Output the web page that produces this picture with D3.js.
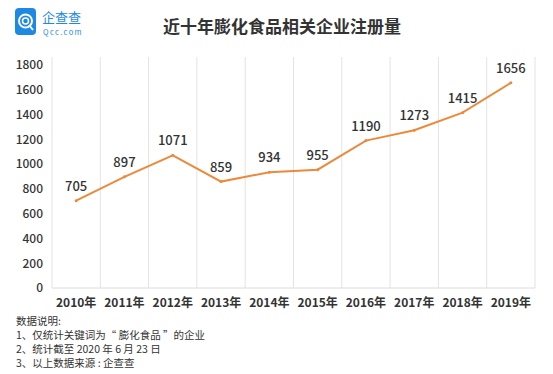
<!DOCTYPE html>
<html><head><meta charset="utf-8">
<script src="https://cdn.jsdelivr.net/npm/d3@7"></script>
<style>body{margin:0;background:#fff}svg{display:block}</style>
</head><body><svg id="c" width="553" height="374"></svg>
<script>
const years = ["2010年","2011年","2012年","2013年","2014年","2015年","2016年","2017年","2018年","2019年"];
const counts = [705, 897, 1071, 859, 934, 955, 1190, 1273, 1415, 1656];
const yTicks = [0,200,400,600,800,1000,1200,1400,1600,1800];
const title = "近十年膨化食品相关企业注册量";
const notes = ["数据说明:", "1、仅统计关键词为“ 膨化食品 ”的企业", "2、统计截至 2020 年 6 月 23 日", "3、以上数据来源 : 企查查"];

const svg = d3.select("#c");
const font = "'Noto Sans CJK SC','Noto Sans',sans-serif";
const L = 52, R = 535, T = 65, B = 288;
const x = d3.scaleBand().domain(years).range([L, R]);
const y = d3.scaleLinear().domain([0, 1800]).range([B, T]);

// logo
const logo = svg.append("g");
logo.append("rect").attr("x",15).attr("y",8).attr("width",21).attr("height",27).attr("rx",4).attr("fill","#1e88e5");
logo.append("circle").attr("cx",25.5).attr("cy",21).attr("r",6.5).attr("fill","none").attr("stroke","#fff").attr("stroke-width",2);
logo.append("circle").attr("cx",25.5).attr("cy",21).attr("r",3).attr("fill","none").attr("stroke","#fff").attr("stroke-width",1.5);
logo.append("line").attr("x1",29).attr("y1",25).attr("x2",33).attr("y2",30).attr("stroke","#fff").attr("stroke-width",2);
logo.append("text").attr("x",42).attr("y",22).attr("font-family",font).attr("font-size",13).attr("fill","#1e88e5").text("企查查");
logo.append("text").attr("x",43).attr("y",35).attr("font-family",font).attr("font-size",7.5).attr("fill","#1e88e5").attr("letter-spacing",1.4).text("Qcc.com");

svg.append("text").attr("x",282).attr("y",33).attr("text-anchor","middle")
  .attr("font-family",font).attr("font-size",17).attr("font-weight","bold").attr("fill","#333").text(title);

// vertical category gridlines
const bounds = years.map(d => x(d)).concat([R]);
svg.append("g").selectAll("line").data(bounds).join("line")
  .attr("x1",d=>d).attr("x2",d=>d).attr("y1",T-8).attr("y2",B)
  .attr("stroke","#e3e3e3").attr("stroke-width",1);
svg.append("line").attr("x1",L).attr("x2",R).attr("y1",B).attr("y2",B).attr("stroke","#dcdcdc");

// y axis
const ya = svg.append("g").attr("transform",`translate(${L-9},0)`)
  .call(d3.axisLeft(y).tickValues(yTicks).tickFormat(d3.format("d")).tickSize(0).tickPadding(0));
ya.select(".domain").remove();
ya.selectAll("text").attr("font-family",font).attr("font-size",12).attr("font-weight",500).attr("fill","#333");

// x axis
const xa = svg.append("g").attr("transform",`translate(0,${B})`)
  .call(d3.axisBottom(x).tickSize(0).tickPadding(10));
xa.select(".domain").remove();
xa.selectAll("text").attr("font-family",font).attr("font-size",12).attr("font-weight","bold").attr("fill","#333");

// line
const line = d3.line().x((d,i)=>x(years[i])+x.bandwidth()/2).y(d=>y(d));
svg.append("path").datum(counts).attr("d",line).attr("fill","none").attr("stroke","#ec8a3c").attr("stroke-width",2);
svg.append("g").selectAll("circle").data(counts).join("circle")
  .attr("cx",(d,i)=>x(years[i])+x.bandwidth()/2).attr("cy",d=>y(d)).attr("r",1.5).attr("fill","#ec8a3c");
svg.append("g").selectAll("text").data(counts).join("text")
  .attr("x",(d,i)=>x(years[i])+x.bandwidth()/2).attr("y",d=>y(d)-10)
  .attr("text-anchor","middle").attr("font-family",font).attr("font-size",13).attr("font-weight",500).attr("fill","#333")
  .text(d=>d);

// notes
svg.append("g").selectAll("text").data(notes).join("text")
  .attr("x",16).attr("y",(d,i)=>325+i*14)
  .attr("font-family",font).attr("font-size",10.5).attr("fill","#333").text(d=>d);
</script></body></html>
